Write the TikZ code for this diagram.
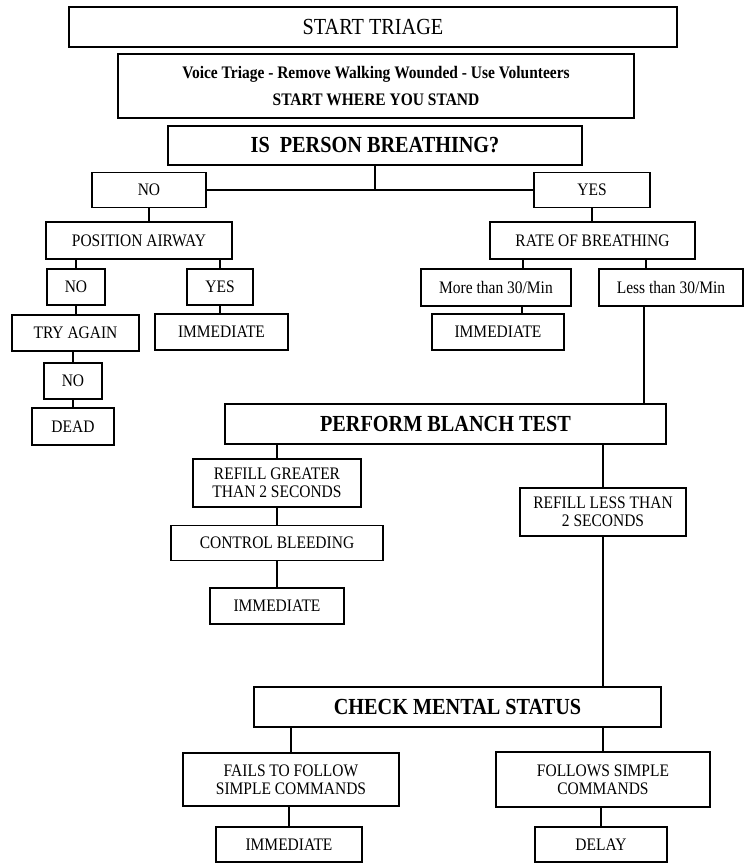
\documentclass[tikz,border=0pt]{standalone}
\usepackage{fontspec}
\setmainfont{Liberation Serif}[FakeStretch=0.88]

\begin{document}
\begin{tikzpicture}[x=1pt, y=-1pt,
		box/.style={draw, line width=1.8pt, inner sep=0pt, align=center, font=\fontsize{17.6}{18}\selectfont},
		headbox/.style={box, font=\fontsize{23}{26}\selectfont},
		bigbox/.style={box, font=\bfseries\fontsize{23}{26}\selectfont},
		link/.style={line width=1.9pt}]
		
		\useasboundingbox (0, 0) rectangle (747, 863);
		
		% header
		\node[headbox, minimum width=608, minimum height=40] (start) at (373, 27) {START TRIAGE};
		\node[box, font=\bfseries\fontsize{17.6}{18}\selectfont, minimum width=516, minimum height=64] (voice) at (376, 86) {Voice Triage - Remove Walking Wounded - Use Volunteers\\[9pt] START WHERE YOU STAND};
		\node[bigbox, minimum width=414, minimum height=39] (breath) at (375, 145.5) {IS\ \ PERSON BREATHING?};
		
		% first split
		\node[box, minimum width=114, minimum height=35] (no1) at (149, 190) {NO};
		\node[box, minimum width=116, minimum height=35] (yes1) at (592, 190) {YES};
		\draw[link] (breath.south) -- (breath.south |- no1.east);
		\draw[link] (no1.east) -- (yes1.west);
		
		% not breathing
		\node[box, minimum width=186, minimum height=37] (airway) at (139, 240.5) {POSITION AIRWAY};
		\node[box, minimum width=58, minimum height=36] (no2) at (76, 287) {NO};
		\node[box, minimum width=66, minimum height=36] (yes2) at (220, 287) {YES};
		\node[box, minimum width=127, minimum height=36] (again) at (75.5, 333) {TRY AGAIN};
		\node[box, minimum width=133, minimum height=36] (imm1) at (221.5, 332) {IMMEDIATE};
		\node[box, minimum width=58, minimum height=36] (no3) at (73, 381) {NO};
		\node[box, minimum width=82, minimum height=37] (dead) at (73, 426.5) {DEAD};
		\draw[link] (no1.south) -- (no1.south |- airway.north);
		\draw[link] (no2.north) -- (no2.north |- airway.south);
		\draw[link] (yes2.north) -- (yes2.north |- airway.south);
		\draw[link] (no2.south) -- (no2.south |- again.north);
		\draw[link] (yes2.south) -- (yes2.south |- imm1.north);
		\draw[link] (no3.north) -- (no3.north |- again.south);
		\draw[link] (no3.south) -- (no3.south |- dead.north);
		
		% breathing
		\node[box, minimum width=205, minimum height=37] (rate) at (592.5, 240.5) {RATE OF BREATHING};
		\node[box, minimum width=150, minimum height=37] (more) at (496, 287.5) {More than 30/Min};
		\node[box, minimum width=144, minimum height=37] (less) at (671, 287.5) {Less than 30/Min};
		\node[box, minimum width=132, minimum height=36] (imm2) at (498, 332) {IMMEDIATE};
		\draw[link] (yes1.south) -- (yes1.south |- rate.north);
		\draw[link] ([xshift=-69.5pt]rate.south) -- ([xshift=-69.5pt]rate.south |- more.north);
		\draw[link] ([xshift=53.5pt]rate.south) -- ([xshift=53.5pt]rate.south |- less.north);
		\draw[link] ([xshift=26pt]more.south) -- ([xshift=26pt]more.south |- imm2.north);
		
		% blanch test
		\node[bigbox, minimum width=441, minimum height=40] (blanch) at (445.5, 424) {PERFORM BLANCH TEST};
		\node[box, minimum width=168, minimum height=48] (refg) at (277, 483) {REFILL GREATER\\THAN 2 SECONDS};
		\node[box, minimum width=212, minimum height=35] (bleed) at (277, 543) {CONTROL BLEEDING};
		\node[box, minimum width=134, minimum height=36] (imm3) at (277, 606) {IMMEDIATE};
		\node[box, minimum width=166, minimum height=48] (refl) at (603, 512) {REFILL LESS THAN\\2 SECONDS};
		\draw[link] ([xshift=-27pt]less.south) -- ([xshift=-27pt]less.south |- blanch.north);
		\draw[link] (refg.north) -- (refg.north |- blanch.south);
		\draw[link] (refg.south) -- (refg.south |- bleed.north);
		\draw[link] (bleed.south) -- (bleed.south |- imm3.north);
		\draw[link] (refl.north) -- (refl.north |- blanch.south);
		
		% mental status
		\node[bigbox, minimum width=407, minimum height=40] (mental) at (457.5, 707) {CHECK MENTAL STATUS};
		\node[box, minimum width=216, minimum height=53] (fails) at (291, 779.5) {FAILS TO FOLLOW\\SIMPLE COMMANDS};
		\node[box, minimum width=214, minimum height=55] (follows) at (603, 779.5) {FOLLOWS SIMPLE\\COMMANDS};
		\node[box, minimum width=146, minimum height=35] (imm4) at (289, 844.5) {IMMEDIATE};
		\node[box, minimum width=132, minimum height=35] (delay) at (601, 844.5) {DELAY};
		\draw[link] (refl.south) -- (refl.south |- mental.north);
		\draw[link] (fails.north) -- (fails.north |- mental.south);
		\draw[link] (follows.north) -- (follows.north |- mental.south);
		\draw[link] (imm4.north) -- (imm4.north |- fails.south);
		\draw[link] (delay.north) -- (delay.north |- follows.south);
		
	\end{tikzpicture}
\end{document}
